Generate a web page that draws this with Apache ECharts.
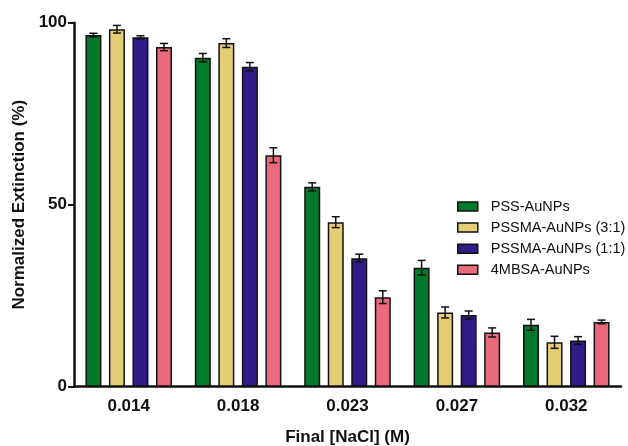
<!DOCTYPE html>
<html>
<head>
<meta charset="utf-8">
<script src="https://cdn.jsdelivr.net/npm/echarts@6/dist/echarts.min.js"></script>
<style>html,body{margin:0;padding:0;background:#fff}#c{width:628px;height:446px}</style>
</head>
<body>
<div id="c"></div>
<script>
var categories = ['0.014', '0.018', '0.023', '0.027', '0.032'];
var seriesNames = ['PSS-AuNPs', 'PSSMA-AuNPs (3:1)', 'PSSMA-AuNPs (1:1)', '4MBSA-AuNPs'];
var pss      = [96.6, 90.4, 54.9, 32.7, 17.0];
var pssma31  = [98.2, 94.4, 45.2, 20.4, 12.2];
var pssma11  = [96.0, 87.9, 35.3, 19.7, 12.7];
var mbsa     = [93.3, 63.6, 24.6, 14.9, 17.8];
var pssErr     = [0.5, 1.15, 1.1, 2.0, 1.5];
var pssma31Err = [1.05, 1.2, 1.5, 1.5, 1.65];
var pssma11Err = [0.4, 1.15, 1.1, 1.1, 1.05];
var mbsaErr    = [1.0, 2.05, 1.75, 1.25, 0.5];
var yTicks = [0, 50, 100];

var colors = ['#037a2b', '#e5cd75', '#311b88', '#e96a7c'];
var values = [pss, pssma31, pssma11, mbsa];
var errors = [pssErr, pssma31Err, pssma11Err, mbsaErr];
var BAR_W = 16, GAP_RATIO = 0.47;
var step = BAR_W * (1 + GAP_RATIO);

var chart = echarts.init(document.getElementById('c'));
var series = [];
values.forEach(function (vals, i) {
  series.push({
    name: seriesNames[i],
    type: 'bar',
    data: vals,
    barWidth: BAR_W,
    barGap: (GAP_RATIO * 100) + '%',
    itemStyle: { color: colors[i], borderColor: '#111', borderWidth: 1.5 },
    z: 2
  });
});
values.forEach(function (vals, i) {
  var data = vals.map(function (v, j) { return [j, v, errors[i][j]]; });
  series.push({
    type: 'custom',
    silent: true,
    z: 5,
    data: data,
    renderItem: function (params, api) {
      var idx = api.value(0), v = api.value(1), e = api.value(2);
      var off = (i - 1.5) * step;
      var hi = api.coord([idx, v + e]);
      var lo = api.coord([idx, v - e]);
      var x = hi[0] + off;
      var cap = 4;
      var st = { stroke: '#111', lineWidth: 1.5 };
      return {
        type: 'group',
        children: [
          { type: 'line', shape: { x1: x, y1: hi[1], x2: x, y2: lo[1] }, style: st },
          { type: 'line', shape: { x1: x - cap, y1: hi[1], x2: x + cap, y2: hi[1] }, style: st },
          { type: 'line', shape: { x1: x - cap, y1: lo[1], x2: x + cap, y2: lo[1] }, style: st }
        ]
      };
    }
  });
});

chart.setOption({
  animation: false,
  textStyle: { fontFamily: 'Liberation Sans, Arial, sans-serif' },
  grid: { left: 74, top: 22.7, right: 7, bottom: 59.3, containLabel: false, outerBoundsMode: 'none' },
  legend: {
    data: seriesNames,
    orient: 'vertical',
    left: 457,
    top: 199,
    padding: 0,
    icon: 'rect',
    itemWidth: 20,
    itemHeight: 9,
    itemGap: 6.1,
    itemStyle: { borderColor: '#111', borderWidth: 1.5 },
    textStyle: { fontSize: 14.5, lineHeight: 12, color: '#111', padding: [0, 0, 0, 8] },
    selectedMode: false
  },
  xAxis: {
    type: 'category',
    data: categories,
    name: 'Final [NaCl] (M)',
    nameLocation: 'middle',
    nameGap: 42,
    nameTextStyle: { fontSize: 17, fontWeight: 'bold', color: '#111' },
    axisLine: { lineStyle: { color: '#111', width: 2.5 } },
    axisTick: { alignWithLabel: true, length: 5, lineStyle: { color: '#111', width: 2 } },
    axisLabel: { fontSize: 17, fontWeight: 'bold', color: '#111', margin: 11 }
  },
  yAxis: {
    type: 'value',
    min: 0,
    max: 100,
    interval: 50,
    name: 'Normalized Extinction (%)',
    nameLocation: 'middle',
    nameGap: 45,
    nameTextStyle: { fontSize: 17, fontWeight: 'bold', color: '#111' },
    axisLine: { show: true, lineStyle: { color: '#111', width: 2.5 } },
    axisTick: { show: true, length: 6, lineStyle: { color: '#111', width: 2 } },
    axisLabel: {
      fontSize: 17, fontWeight: 'bold', color: '#111', margin: 7,
      formatter: function (v) { return yTicks.indexOf(v) >= 0 ? String(v) : ''; }
    },
    splitLine: { show: false }
  },
  series: series
});
</script>
</body>
</html>
